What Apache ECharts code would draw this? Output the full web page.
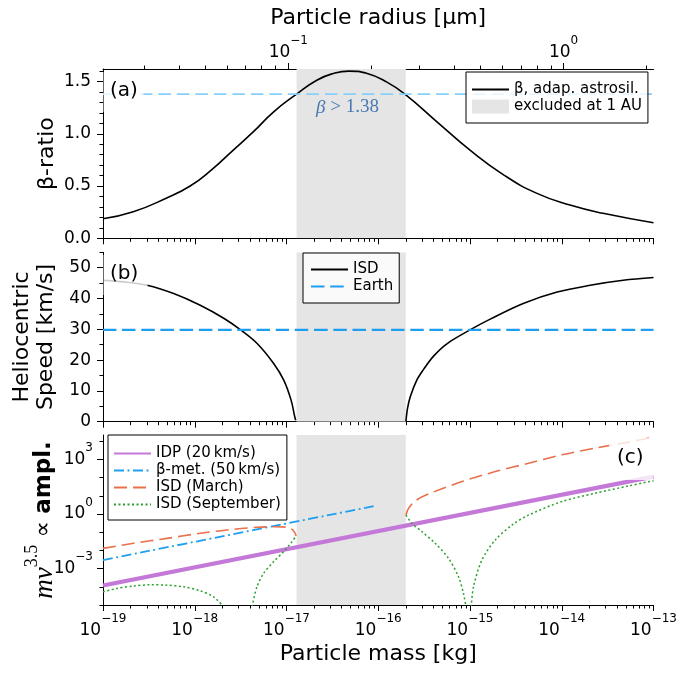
<!DOCTYPE html>
<html>
<head>
<meta charset="utf-8">
<script src="https://cdn.jsdelivr.net/npm/echarts@6/dist/echarts.min.js"></script>
<style>
  html, body { margin: 0; padding: 0; background: #fff; }
  #chart { width: 679px; height: 673px; }
</style>
</head>
<body>
<div id="chart"></div>
<script>
var chart = echarts.init(document.getElementById('chart'));
var FONT = 'DejaVu Sans';

// every mass below is log10(m / kg); panel (c) values are log10(m v^3.5)
var massTicks = [-19, -18, -17, -16, -15, -14, -13];
var radiusTicks = [-1, 0];          // log10(r / µm) on the top axis
var radiusRefMass = -16.98;         // log10 mass of a 0.1 µm grain
var betaTicks = [0, 0.5, 1.0, 1.5];
var speedTicks = [0, 10, 20, 30, 40, 50];
var amplTicks = [-3, 0, 3];

var excludedMass = [-16.89, -15.70];

// (a) beta ratio
var betaMass = [-19, -18.67, -18.30, -18.05, -17.83, -17.58, -17.36, -17.14, -16.89, -16.67, -16.49, -16.32,
                -16.12, -15.91, -15.71, -15.36, -15.0, -14.63, -14.27, -13.91, -13.55, -13.0];
var betaValue = [0.187, 0.254, 0.388, 0.50, 0.645, 0.844, 1.02, 1.21, 1.38, 1.513, 1.577, 1.60,
                 1.577, 1.497, 1.38, 1.115, 0.844, 0.605, 0.43, 0.318, 0.239, 0.149];
var betaLimit = 1.38;

// (b) heliocentric speed, km/s
var isdMassLeft = [-19, -18.77, -18.52, -18.23, -17.94, -17.68, -17.50, -17.32, -17.14, -17.03, -16.95, -16.91, -16.90];
var isdSpeedLeft = [45.9, 45.4, 44.3, 41.6, 37.8, 33.5, 29.8, 25.4, 18.9, 13.5, 7.0, 1.6, 0.5];
var isdMassRight = [-15.698, -15.681, -15.651, -15.58, -15.506, -15.397, -15.252, -15.0, -14.78, -14.42, -14.05, -13.69, -13.33, -13.0];
var isdSpeedRight = [0.2, 4.3, 8.1, 13.5, 17.0, 21.3, 25.3, 29.8, 33.3, 38.4, 42.1, 44.3, 45.9, 46.8];
var earthSpeed = 29.8;

// (c) m v^3.5
var idpMass = [-19, -13];
var idpAmpl = [-3.93, 2.05];
var betaMetMass = [-19, -16.05];
var betaMetAmpl = [-2.53, 0.43];
var marchMassLeft = [-19, -18.667, -18.303, -17.94, -17.577, -17.322, -17.104, -16.977, -16.923, -16.894];
var marchAmplLeft = [-1.89, -1.61, -1.34, -1.06, -0.84, -0.73, -0.70, -0.75, -0.92, -1.21];
var marchMassRight = [-15.698, -15.67, -15.597, -15.452, -15.088, -14.725, -14.362, -14.0, -13.636, -13.273, -13.0];
var marchAmplRight = [-0.06, 0.31, 0.72, 1.10, 1.78, 2.33, 2.79, 3.25, 3.62, 3.95, 4.22];
var septMassA = [-19, -18.847, -18.667, -18.485, -18.303, -18.122, -17.94, -17.795, -17.686];
var septAmplA = [-4.28, -4.09, -3.96, -3.89, -3.91, -4.0, -4.22, -4.55, -5.1];
var septMassB = [-17.376, -17.322, -17.25, -17.141, -17.032, -16.94, -16.894];
var septAmplB = [-5.1, -4.0, -3.27, -2.62, -2.07, -1.52, -1.21];
var septMassC = [-15.698, -15.633, -15.524, -15.379, -15.234, -15.125, -15.071, -15.044];
var septAmplC = [-0.06, -0.51, -0.97, -1.61, -2.44, -3.45, -4.37, -5.1];
var septMassD = [-14.987, -14.962, -14.87, -14.725, -14.543, -14.362, -14.0, -13.636, -13.273, -13.0];
var septAmplD = [-5.1, -4.0, -2.53, -1.43, -0.61, -0.06, 0.68, 1.14, 1.54, 1.83];

var betaMax = 1.62, speedMax = 55, amplMin = -5, amplMax = 4.34;
var radiusMin = (-19 - radiusRefMass) / 3 - 1;
var radiusMax = (-13 - radiusRefMass) / 3 - 1;

function pairs(xs, ys) {
  return xs.map(function (x, i) { return [x, ys[i]]; });
}
// glue branches together with an empty point so no line is drawn between them
function branches(list) {
  var out = [];
  list.forEach(function (b, i) {
    if (i > 0) out.push(['-', '-']);
    out = out.concat(b);
  });
  return out;
}
function logMinor(lo, hi) {
  var out = [];
  for (var d = Math.floor(lo); d < hi; d++) {
    for (var k = 2; k < 10; k++) {
      var v = d + Math.log10(k);
      if (v > lo && v < hi) out.push(v);
    }
  }
  return out;
}
function stepMinor(lo, hi, step, major) {
  var out = [];
  for (var v = lo; v <= hi + 1e-9; v += step) {
    var r = Math.round(v * 100) / 100;
    if (major.indexOf(r) < 0) out.push(r);
  }
  return out;
}
function pow10(v) {
  var e = Math.round(v);
  return '{b|10}{s|' + (e < 0 ? '\u2212' + (-e) : e) + '}';
}

var black = {color: '#000', width: 1};
var titleFont = {fontSize: 22, fontFamily: FONT, color: '#000'};
var supRich = {
  b: {fontSize: 17, fontFamily: FONT, color: '#000', padding: [9, 0, 0, 0]},
  s: {fontSize: 12, fontFamily: FONT, color: '#000', verticalAlign: 'top'}
};

// main axis (long ticks, labels) + an overlaid one that only carries the minor ticks
function axisPair(grid, pos, min, max, major, minor, label, name) {
  var main = {
    type: 'value', gridIndex: grid, position: pos, min: min, max: max,
    axisLine: {show: true, onZero: false, lineStyle: black},
    axisTick: {show: true, length: 6, lineStyle: black, customValues: major},
    axisLabel: label ? Object.assign({show: true, customValues: major, fontSize: 17, fontFamily: FONT, color: '#000'}, label) : {show: false},
    splitLine: {show: false}
  };
  if (name) Object.assign(main, {nameLocation: 'middle', nameMoveOverlap: false}, name);
  var sub = {
    type: 'value', gridIndex: grid, position: pos, min: min, max: max,
    axisLine: {show: false, onZero: false},
    axisTick: {show: true, length: 3.5, lineStyle: black, customValues: minor},
    axisLabel: {show: false},
    splitLine: {show: false}
  };
  return [main, sub];
}

var massMinor = logMinor(-19, -13);
var radiusMinor = logMinor(radiusMin, radiusMax);

var xAxes = [].concat(
  axisPair(0, 'bottom', -19, -13, massTicks, massMinor, null),                       // 0,1
  axisPair(0, 'top', radiusMin, radiusMax, radiusTicks, radiusMinor,                 // 2,3
    {formatter: pow10, rich: supRich, margin: 8},
    {name: 'Particle radius [µm]', nameGap: 40, nameTextStyle: titleFont}),
  axisPair(1, 'bottom', -19, -13, massTicks, massMinor, null),                       // 4,5
  axisPair(2, 'bottom', -19, -13, massTicks, massMinor,                              // 6,7
    {formatter: pow10, rich: supRich, margin: 8},
    {name: 'Particle mass [kg]', nameGap: 38, nameTextStyle: titleFont})
);

var yAxes = [].concat(
  axisPair(0, 'left', 0, betaMax, betaTicks, stepMinor(0.1, 1.6, 0.1, betaTicks),   // 0,1
    {formatter: function (v) { return v.toFixed(1); }, margin: 12},
    {name: 'β-ratio', nameGap: 45, nameTextStyle: titleFont}),
  axisPair(1, 'left', 0, speedMax, speedTicks, stepMinor(5, 55, 10, speedTicks),    // 2,3
    {margin: 12},
    {name: 'Heliocentric\nSpeed [km/s]', nameGap: 45,
     nameTextStyle: {fontSize: 22, fontFamily: FONT, color: '#000', lineHeight: 24}}),
  axisPair(2, 'left', amplMin, amplMax, amplTicks, stepMinor(-5, 4, 1, amplTicks),  // 4,5
    {formatter: pow10, rich: supRich, margin: 10, padding: [0, 0, 9, 0]},
    {name: '{m|mv}{s|3.5}{t| \u221d }{w|ampl.}', nameGap: 45,
     nameTextStyle: {rich: {
       m: {fontFamily: 'Liberation Serif', fontStyle: 'italic', fontSize: 27, color: '#000', padding: [8, 0, 0, 0]},
       s: {fontFamily: 'Liberation Serif', fontSize: 18, color: '#000', verticalAlign: 'top'},
       t: {fontFamily: FONT, fontSize: 23, color: '#000', padding: [8, 0, 0, 0]},
       w: {fontFamily: FONT, fontSize: 23, fontWeight: 'bold', color: '#000', padding: [8, 0, 0, 0]}
     }}})
);

function line(name, xi, yi, data, color, width, dash, smooth) {
  return {
    name: name, type: 'line', xAxisIndex: xi, yAxisIndex: yi, data: data,
    symbol: 'none', smooth: smooth || 0.3,
    lineStyle: {color: color, width: width, type: dash || 'solid'},
    itemStyle: {color: color},
    emphasis: {disabled: true}, silent: true, z: 2
  };
}
function band(xi, yi, top) {
  return {
    name: 'excluded at 1 AU', type: 'line', xAxisIndex: xi, yAxisIndex: yi,
    data: pairs(excludedMass, [top, top]), symbol: 'none',
    lineStyle: {width: 0},
    areaStyle: {color: '#e5e5e5', opacity: 1, origin: 'start'},
    itemStyle: {color: '#e5e5e5'},
    emphasis: {disabled: true}, silent: true, z: 1
  };
}

var series = [
  band(0, 0, betaMax),
  line('β, adap. astrosil.', 0, 0, pairs(betaMass, betaValue), '#000', 1.6, null, 0.5),
  line('beta limit', 0, 0, pairs([-19, -13], [betaLimit, betaLimit]), '#87cefa', 1.6, [12.5, 6]),

  band(4, 2, speedMax),
  line('ISD', 4, 2, branches([pairs(isdMassLeft, isdSpeedLeft), pairs(isdMassRight, isdSpeedRight)]), '#000', 1.6, null, 0.35),
  line('Earth', 4, 2, pairs([-19, -13], [earthSpeed, earthSpeed]), '#1f9df0', 2.4, [13.5, 5.7]),

  band(6, 4, amplMax),
  line('IDP (20\u2009km/s)', 6, 4, pairs(idpMass, idpAmpl), '#c478d8', 4.2),
  line('β-met. (50\u2009km/s)', 6, 4, pairs(betaMetMass, betaMetAmpl), '#1e9ff2', 1.8, [10, 3.5, 2, 3.5]),
  line('ISD (March)', 6, 4, branches([pairs(marchMassLeft, marchAmplLeft), pairs(marchMassRight, marchAmplRight)]), '#e8704a', 1.6, [13, 6]),
  line('ISD (September)', 6, 4, branches([pairs(septMassA, septAmplA), pairs(septMassB, septAmplB),
                                          pairs(septMassC, septAmplC), pairs(septMassD, septAmplD)]), '#2ca02c', 1.5, [2, 2.5])
];

function legendBox(left, top, padding, names) {
  return {
    left: left, top: top, orient: 'vertical', padding: padding, itemGap: 0,
    itemWidth: 37, itemHeight: 14, selectedMode: false,
    backgroundColor: 'rgba(255,255,255,0.8)', borderColor: '#000', borderWidth: 1, borderRadius: 0,
    textStyle: {fontSize: 15, fontFamily: FONT, color: '#000', lineHeight: 17},
    itemStyle: {opacity: 0},
    data: names
  };
}

function tag(text, box, left, top) {
  return [
    {type: 'rect', left: box[0], top: box[1], shape: {width: box[2], height: box[3]},
     style: {fill: 'rgba(255,255,255,0.8)'}, z: 100, silent: true},
    {type: 'text', left: left, top: top, z: 101, silent: true,
     style: {text: text, font: '20px "DejaVu Sans"', fill: '#000'}}
  ];
}

var gridBase = {left: 103, width: 550.5, outerBoundsMode: 'none', containLabel: false};
var option = {
  animation: false,
  backgroundColor: '#fff',
  grid: [
    Object.assign({top: 69, height: 169.3}, gridBase),
    Object.assign({top: 252.3, height: 169.4}, gridBase),
    Object.assign({top: 435, height: 170}, gridBase)
  ],
  xAxis: xAxes,
  yAxis: yAxes,
  legend: [
    legendBox(466, 72, [9, 6, 8, 5], [
      {name: 'β, adap. astrosil.'},
      {name: 'excluded at 1 AU', icon: 'rect', itemStyle: {color: '#e5e5e5', opacity: 1}}
    ]),
    legendBox(303, 253, [8, 6, 8, 7], ['ISD', 'Earth']),
    legendBox(108, 435, [10, 6, 7, 5], ['IDP (20\u2009km/s)', 'β-met. (50\u2009km/s)', 'ISD (March)', 'ISD (September)'])
  ],
  graphic: [].concat(
    tag('(a)', [103.5, 72, 40, 40], 110, 81),
    tag('(b)', [103.5, 255, 44, 40], 110, 264),
    tag('(c)', [609, 438, 44, 42], 617, 448),
    [{type: 'text', left: 316, top: 98, z: 50, silent: true,
      style: {text: '{i|β}{r| > 1.38}', fill: '#4678b4',
              rich: {i: {fontFamily: 'Liberation Serif', fontStyle: 'italic', fontSize: 19, fill: '#4678b4', color: '#4678b4'},
                     r: {fontFamily: 'Liberation Serif', fontSize: 19, fill: '#4678b4', color: '#4678b4'}}}}]
  ),
  series: series
};
chart.setOption(option);
</script>
</body>
</html>
